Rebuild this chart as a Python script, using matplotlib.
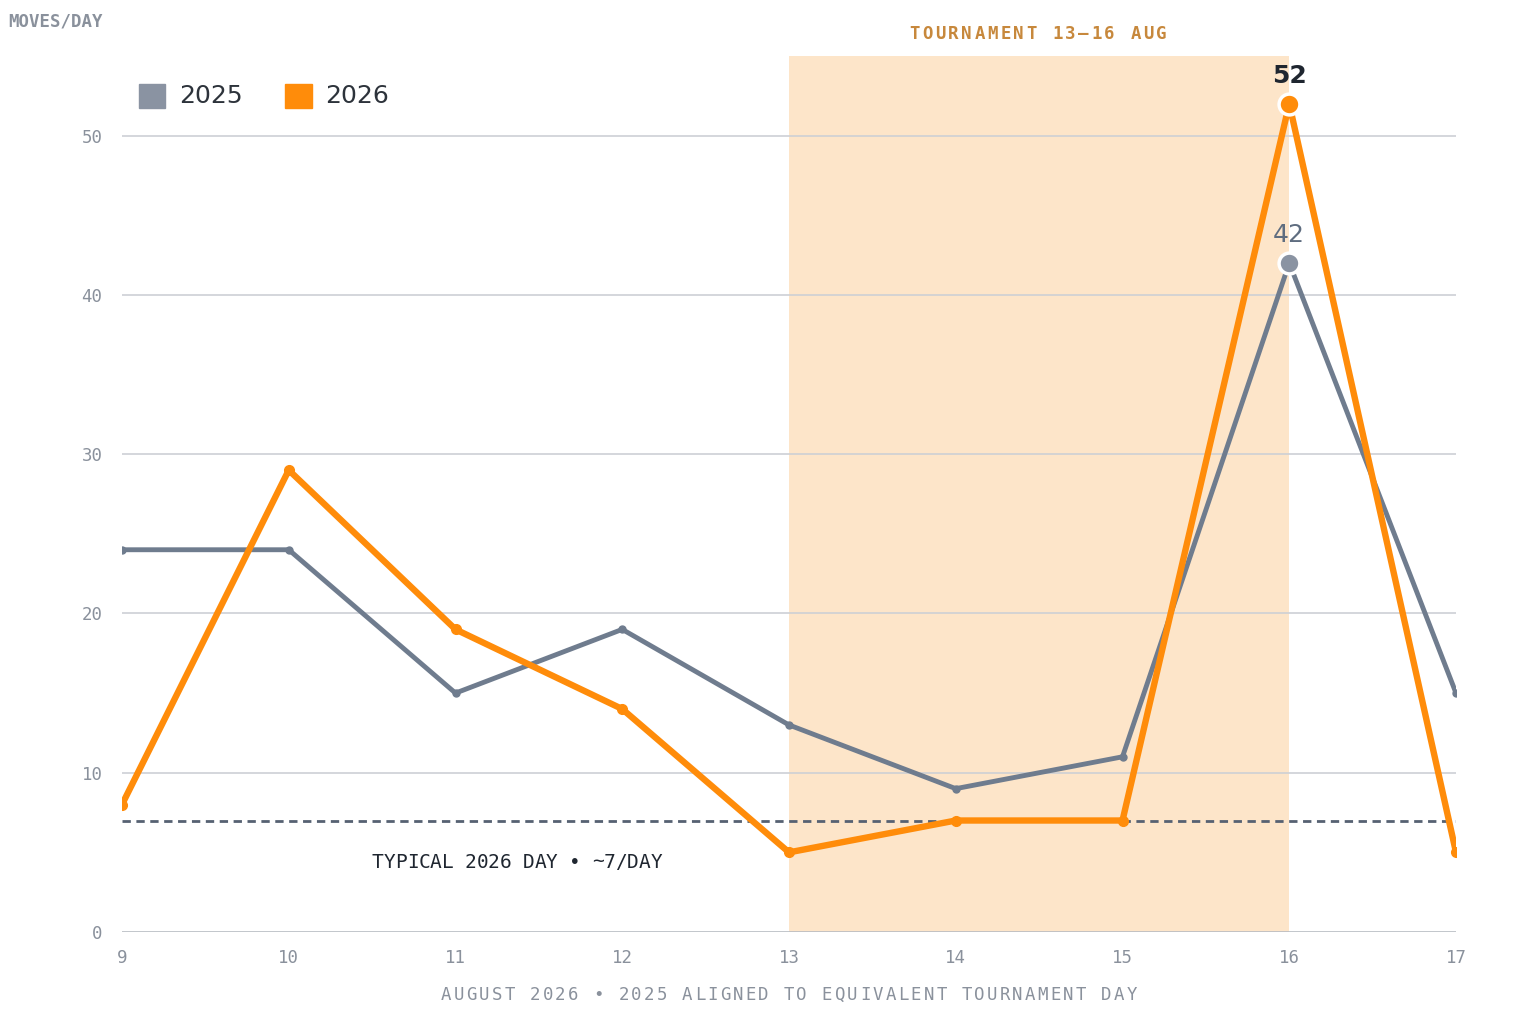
import matplotlib.pyplot as plt

# data
days = [9, 10, 11, 12, 13, 14, 15, 16, 17]
moves_2025 = [24, 24, 15, 19, 13, 9, 11, 42, 15]
moves_2026 = [8, 29, 19, 14, 5, 7, 7, 52, 5]
typical_2026 = 7
tournament_start, tournament_end = 13, 16

grey = "#6f7c8e"
orange = "#ff8c0a"
mono = "DejaVu Sans Mono"
W, H = 1536, 1032

fig = plt.figure(figsize=(W / 100, H / 100), dpi=100)
ax = fig.add_axes([122 / W, 1 - 932 / H, (1456 - 122) / W, (932 - 56) / H])


def spaced(x_center, y_top, s, size, step, **kw):
    # monospace text with extra letter spacing, placed char by char (pixel coords from top-left)
    x0 = x_center - step * (len(s) - 1) / 2
    for i, ch in enumerate(s):
        fig.text((x0 + i * step) / W, 1 - y_top / H, ch, ha="center", va="center",
                 fontsize=size, family=mono, **kw)


ax.set_xlim(9, 17)
ax.set_ylim(0, 55)

# tournament shading
ax.axvspan(tournament_start, tournament_end, color="#fde5c9", zorder=0, lw=0)
spaced(1038, 34, "TOURNAMENT 13–16 AUG", 12.5, 13, fontweight="bold", color="#c7883c")

# gridlines
for y in [0, 10, 20, 30, 40, 50]:
    ax.axhline(y, color="#cdd0d5" if y else "#b8bcc2", lw=1.2, zorder=1)

# typical day
ax.axhline(typical_2026, color="#566172", lw=2, ls=(0, (3, 2)), zorder=2)
spaced(517, 862, "TYPICAL 2026 DAY • ~7/DAY", 14, 11.6, color="#1f2630")

# series
ax.plot(days, moves_2025, color=grey, lw=3.5, marker="o", ms=5, zorder=3)
ax.plot(days, moves_2026, color=orange, lw=4.6, marker="o", ms=7, zorder=4)
ax.plot(days[7], moves_2025[7], "o", color="#8a93a2", ms=15, mec="white", mew=2.5, zorder=5)
ax.plot(days[7], moves_2026[7], "o", color=orange, ms=15, mec="white", mew=2.5, zorder=6)
ax.text(days[7], moves_2025[7] + 1.0, "42", ha="center", va="bottom", fontsize=18, color="#5f6d80")
ax.text(days[7], moves_2026[7] + 1.0, "52", ha="center", va="bottom", fontsize=18,
        fontweight="bold", color="#1f2630")

# axes styling
for s in ax.spines.values():
    s.set_visible(False)
ax.set_xticks(days)
ax.set_yticks([0, 10, 20, 30, 40, 50])
ax.tick_params(length=0, labelsize=12.5, labelcolor="#8a919c")
ax.tick_params(axis="x", pad=12)
ax.tick_params(axis="y", pad=14)
for lab in ax.get_xticklabels() + ax.get_yticklabels():
    lab.set_family(mono)

spaced(789, 995, "AUGUST 2026 • 2025 ALIGNED TO EQUIVALENT TOURNAMENT DAY", 12.5, 12.7, color="#8a919c")

fig.text(8 / W, 1 - 21 / H, "MOVES/DAY", ha="left", va="center", fontsize=12.5,
         fontweight="bold", color="#8a919c", family=mono)

# legend
ax.add_patch(plt.Rectangle((9.1, 51.75), 0.16, 1.5, color="#8a93a2", clip_on=False, zorder=5))
ax.text(9.34, 52.5, "2025", fontsize=18, va="center", color="#2d333b")
ax.add_patch(plt.Rectangle((9.98, 51.75), 0.16, 1.5, color=orange, clip_on=False, zorder=5))
ax.text(10.22, 52.5, "2026", fontsize=18, va="center", color="#2d333b")

fig.savefig("out.png", dpi=100, facecolor="white")
